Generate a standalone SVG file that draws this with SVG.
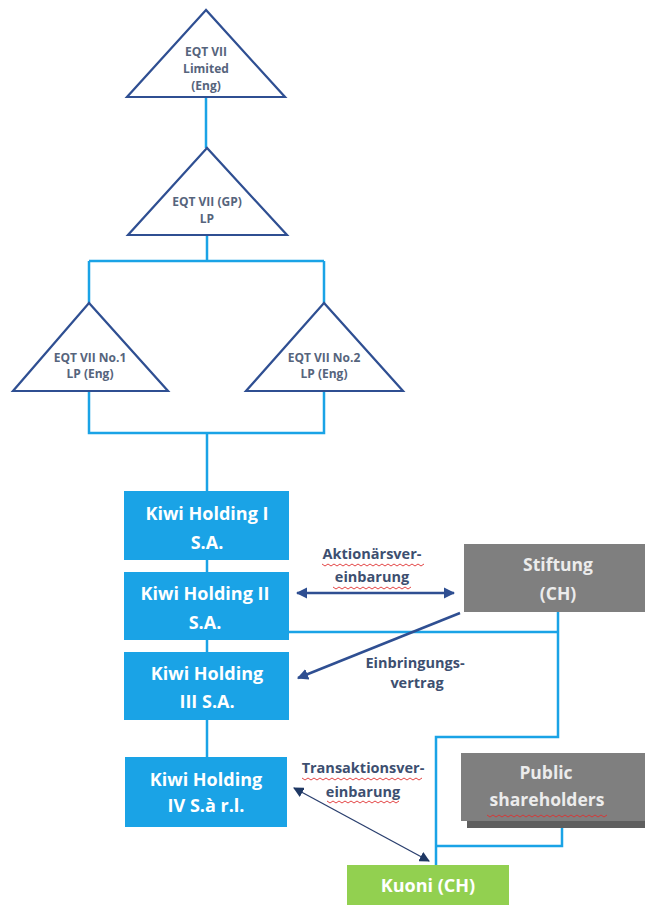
<svg xmlns="http://www.w3.org/2000/svg" width="645" height="905" viewBox="0 0 645 905">
<defs>
<style>
.tri{fill:#fff;stroke:#2f4f92;stroke-width:2.2;stroke-linejoin:miter}
.tt{font-family:"Open Sans","Liberation Sans",sans-serif;font-weight:bold;font-size:12px;fill:#56647c;text-anchor:middle}
.kiwi{fill:#1aa3e6}
.gray{fill:#7f7f7f}
.kt{font-family:"Open Sans","Liberation Sans",sans-serif;font-weight:bold;font-size:18px;fill:#fff;text-anchor:middle}
.gt{font-family:"Open Sans","Liberation Sans",sans-serif;font-weight:bold;font-size:17.5px;fill:#ececec;text-anchor:middle}
.lbl{font-family:"Open Sans","Liberation Sans",sans-serif;font-weight:bold;font-size:14.5px;fill:#3d4f70;text-anchor:middle}
.con{fill:none;stroke:#1aa3e6;stroke-width:2.5}
.arr{fill:none;stroke:#2f4f92;stroke-width:2.5}
.arr2{fill:none;stroke:#2a3f6e;stroke-width:1.3}
.wav{fill:none;stroke:#e03030;stroke-width:0.9}
</style>
<marker id="ah" viewBox="0 0 10 10" refX="9" refY="5" markerWidth="4.5" markerHeight="4.5" orient="auto-start-reverse" markerUnits="strokeWidth">
<path d="M0,0 L10,5 L0,10 z" fill="#2f4f92"/>
</marker>
<marker id="ah2" viewBox="0 0 10 10" refX="9" refY="5" markerWidth="8" markerHeight="8" orient="auto-start-reverse" markerUnits="strokeWidth">
<path d="M0,0 L10,5 L0,10 z" fill="#1f3864"/>
</marker>
</defs>
<rect width="645" height="905" fill="#fff"/>

<g id="connectors">
<path class="con" d="M206,97 V148"/>
<path class="con" d="M207,235 V261 M89,261 H324 M89,261 V303 M324,261 V303"/>
<path class="con" d="M89,391 V433 H324 V391 M207,433 V491"/>
<path class="con" d="M207,560 V572 M207,640 V652 M207,720 V757"/>
<path class="con" d="M289,632 H558 M558,612 V737 H436 V865"/>
<path class="con" d="M562,828 V846 H436"/>
<path class="arr" d="M297,593 H454" marker-start="url(#ah)" marker-end="url(#ah)"/>
<path class="arr" d="M460,613 L298,678" marker-end="url(#ah)"/>
<path class="arr2" d="M294,788 L429,861" marker-start="url(#ah2)" marker-end="url(#ah2)"/>
</g>

<g id="eqt-vii-limited">
<polygon class="tri" points="206,10 127,97 285,97"/>
<text class="tt" x="206" y="56">EQT VII</text>
<text class="tt" x="206" y="73">Limited</text>
<text class="tt" x="206" y="90">(Eng)</text>
</g>
<g id="eqt-vii-gp">
<polygon class="tri" points="207,148 128,235 287,235"/>
<text class="tt" x="207" y="206">EQT VII (GP)</text>
<text class="tt" x="207" y="223">LP</text>
</g>
<g id="eqt-vii-no1">
<polygon class="tri" points="89,303 13,391 168,391"/>
<text class="tt" x="90" y="362">EQT VII No.1</text>
<text class="tt" x="90" y="378">LP (Eng)</text>
</g>
<g id="eqt-vii-no2">
<polygon class="tri" points="324,303 246,391 403,391"/>
<text class="tt" x="324" y="362">EQT VII No.2</text>
<text class="tt" x="324" y="378">LP (Eng)</text>
</g>

<g id="kiwi-1">
<rect class="kiwi" x="124" y="491" width="165" height="69"/>
<text class="kt" x="207" y="520">Kiwi Holding I</text>
<text class="kt" x="207" y="549">S.A.</text>
</g>
<g id="kiwi-2">
<rect class="kiwi" x="124" y="572" width="165" height="68"/>
<text class="kt" x="205" y="600">Kiwi Holding II</text>
<text class="kt" x="205" y="629">S.A.</text>
</g>
<g id="kiwi-3">
<rect class="kiwi" x="124" y="652" width="165" height="68"/>
<text class="kt" x="207" y="680">Kiwi Holding</text>
<text class="kt" x="207" y="708">III S.A.</text>
</g>
<g id="kiwi-4">
<rect class="kiwi" x="125" y="757" width="162" height="70"/>
<text class="kt" x="206" y="786">Kiwi Holding</text>
<text class="kt" x="206" y="812">IV S.à r.l.</text>
</g>

<g id="stiftung">
<rect class="gray" x="464" y="544" width="181" height="68"/>
<text class="gt" x="558" y="571">Stiftung</text>
<text class="gt" x="558" y="600">(CH)</text>
</g>
<g id="public-shareholders">
<rect fill="#5f5f5f" x="467" y="760" width="178" height="68"/>
<rect class="gray" x="461" y="753" width="184" height="68"/>
<text class="gt" x="546" y="779">Public</text>
<text class="gt" x="547" y="806">shareholders</text>
<path class="wav" d="M487,815 l3,2 l3,-2 l3,2 l3,-2 l3,2 l3,-2 l3,2 l3,-2 l3,2 l3,-2 l3,2 l3,-2 l3,2 l3,-2 l3,2 l3,-2 l3,2 l3,-2 l3,2 l3,-2 l3,2 l3,-2 l3,2 l3,-2 l3,2 l3,-2 l3,2 l3,-2 l3,2 l3,-2 l3,2 l3,-2 l3,2 l3,-2 l3,2 l3,-2 l3,2 l3,-2 l3,2 l3,-2"/>
</g>
<g id="kuoni">
<rect fill="#92d050" x="347" y="865" width="162" height="40"/>
<text class="kt" x="428" y="892">Kuoni (CH)</text>
</g>

<g id="labels">
<text class="lbl" x="372" y="559">Aktionärsver-</text>
<text class="lbl" x="372" y="582">einbarung</text>
<path class="wav" d="M322,564 l3,2 l3,-2 l3,2 l3,-2 l3,2 l3,-2 l3,2 l3,-2 l3,2 l3,-2 l3,2 l3,-2 l3,2 l3,-2 l3,2 l3,-2 l3,2 l3,-2 l3,2 l3,-2 l3,2 l3,-2 l3,2 l3,-2 l3,2 l3,-2 l3,2 l3,-2 l3,2 l3,-2 l3,2 l3,-2 l3,2 l3,-2"/>
<path class="wav" d="M333,587 l3,2 l3,-2 l3,2 l3,-2 l3,2 l3,-2 l3,2 l3,-2 l3,2 l3,-2 l3,2 l3,-2 l3,2 l3,-2 l3,2 l3,-2 l3,2 l3,-2 l3,2 l3,-2 l3,2 l3,-2 l3,2 l3,-2 l3,2 l3,-2"/>
<text class="lbl" x="415" y="668">Einbringungs-</text>
<text class="lbl" x="417" y="688">vertrag</text>
<text class="lbl" x="363" y="773">Transaktionsver-</text>
<text class="lbl" x="363" y="797">einbarung</text>
<path class="wav" d="M302,778 l3,2 l3,-2 l3,2 l3,-2 l3,2 l3,-2 l3,2 l3,-2 l3,2 l3,-2 l3,2 l3,-2 l3,2 l3,-2 l3,2 l3,-2 l3,2 l3,-2 l3,2 l3,-2 l3,2 l3,-2 l3,2 l3,-2 l3,2 l3,-2 l3,2 l3,-2 l3,2 l3,-2 l3,2 l3,-2 l3,2 l3,-2 l3,2 l3,-2 l3,2 l3,-2 l3,2 l3,-2"/>
<path class="wav" d="M327,801 l3,2 l3,-2 l3,2 l3,-2 l3,2 l3,-2 l3,2 l3,-2 l3,2 l3,-2 l3,2 l3,-2 l3,2 l3,-2 l3,2 l3,-2 l3,2 l3,-2 l3,2 l3,-2 l3,2 l3,-2 l3,2 l3,-2"/>
</g>
</svg>
